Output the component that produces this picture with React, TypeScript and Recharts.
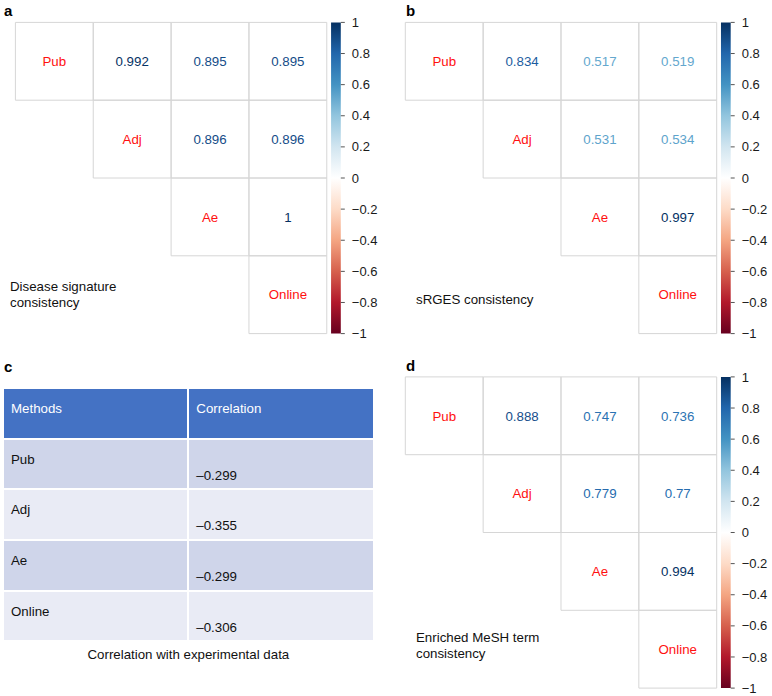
import React from 'react'
import { ScatterChart, Scatter, XAxis, YAxis, ReferenceArea } from 'recharts'

const FONT = '"Liberation Sans", Arial, Helvetica, sans-serif'

// methods compared in every panel
const METHODS = ['Pub', 'Adj', 'Ae', 'Online']

// upper triangle, row by row: Pub-Adj, Pub-Ae, Pub-Online, Adj-Ae, Adj-Online, Ae-Online
const SIG_CONSISTENCY = [0.992, 0.895, 0.895, 0.896, 0.896, 1]
const SRGES_CONSISTENCY = [0.834, 0.517, 0.519, 0.531, 0.534, 0.997]
const MESH_CONSISTENCY = [0.888, 0.747, 0.736, 0.779, 0.77, 0.994]

// panel c
const EXP_CORRELATION = [-0.299, -0.355, -0.299, -0.306]

const CB_TICKS = [-1, -0.8, -0.6, -0.4, -0.2, 0, 0.2, 0.4, 0.6, 0.8, 1]

// corrplot RdBu ramp, -1 .. 1
const RDBU = ['#67001F', '#B2182B', '#D6604D', '#F4A582', '#FDDBC7', '#FFFFFF', '#D1E5F0', '#92C5DE', '#4393C3', '#2166AC', '#053061']

const XMAX = 4.18
const CB_X1 = 4.055
const PLOT_W = 325.4
const PLOT_H = 311.2

function hex(c: string) {
  return [1, 3, 5].map(i => parseInt(c.slice(i, i + 2), 16))
}

function corrColor(v: number) {
  const t = ((v + 1) / 2) * (RDBU.length - 1)
  const i = Math.min(Math.floor(t), RDBU.length - 2)
  const f = t - i
  const a = hex(RDBU[i])
  const b = hex(RDBU[i + 1])
  const m = a.map((x, k) => Math.round(x + (b[k] - x) * f))
  return `rgb(${m[0]},${m[1]},${m[2]})`
}

function buildCells(values: number[]) {
  const cells: { x: number; y: number; row: number; col: number; label: string; color: string }[] = []
  let k = 0
  for (let i = 0; i < METHODS.length; i++) {
    cells.push({ x: i + 0.5, y: i + 0.5, row: i, col: i, label: METHODS[i], color: '#FF1010' })
    for (let j = i + 1; j < METHODS.length; j++) {
      const v = values[k++]
      cells.push({ x: j + 0.5, y: i + 0.5, row: i, col: j, label: String(v), color: corrColor(v) })
    }
  }
  return cells
}

// anchors the colour-bar axis so it gets a scale
const cbAnchor = CB_TICKS.map(v => ({ x: XMAX, y: v }))

const fmtTick = (v: number) => (v < 0 ? `\u2212${Math.abs(v)}` : `${v}`)

const CellText = (props: any) => {
  const { cx, cy, payload } = props
  return (
    <text x={cx} y={cy} dy="0.36em" textAnchor="middle" fill={payload.color} fontSize={13.3} fontFamily={FONT}>
      {payload.label}
    </text>
  )
}

const Nothing = () => <g />

interface CorrPanelProps {
  id: string
  letter: string
  values: number[]
  left: number
  top: number
  plotLeft: number
  plotTop: number
  caption: string[]
  captionLeft: number
  captionTop: number
  letterLeft: number
  letterTop: number
}

function CorrPanel({ id, letter, values, left, top, plotLeft, plotTop, caption, captionLeft, captionTop, letterLeft, letterTop }: CorrPanelProps) {
  const cells = buildCells(values)
  const margin = {
    top: plotTop,
    left: plotLeft,
    right: 386 - plotLeft - PLOT_W - 40,
    bottom: 348 - plotTop - PLOT_H,
  }
  return (
    <div style={{ position: 'absolute', left, top, width: 386, height: 348 }}>
      <ScatterChart width={386} height={348} margin={margin}>
        <defs>
          <linearGradient id={`rdbu-${id}`} x1="0" y1="0" x2="0" y2="1">
            {RDBU.slice().reverse().map((c, i) => (
              <stop key={i} offset={`${(i / (RDBU.length - 1)) * 100}%`} stopColor={c} />
            ))}
          </linearGradient>
        </defs>
        <XAxis type="number" dataKey="x" domain={[0, XMAX]} hide allowDataOverflow />
        <YAxis yAxisId="m" type="number" dataKey="y" domain={[0, 4]} reversed hide allowDataOverflow />
        <YAxis
          yAxisId="cb"
          orientation="right"
          type="number"
          dataKey="y"
          domain={[-1, 1]}
          ticks={CB_TICKS}
          interval={0}
          width={40}
          axisLine={false}
          tickLine={{ stroke: '#555' }}
          tickSize={4}
          tickMargin={7}
          tick={{ fill: '#1a1a1a', fontSize: 13, fontFamily: FONT }}
          tickFormatter={fmtTick}
          allowDataOverflow
        />
        {cells.map(c => (
          <ReferenceArea
            key={`${c.row}-${c.col}`}
            yAxisId="m"
            x1={c.col}
            x2={c.col + 1}
            y1={c.row}
            y2={c.row + 1}
            fill="none"
            stroke="#d6d6d6"
            strokeWidth={1}
          />
        ))}
        <ReferenceArea
          yAxisId="cb"
          x1={CB_X1}
          x2={XMAX}
          y1={-1}
          y2={1}
          fill={`url(#rdbu-${id})`}
          fillOpacity={1}
          stroke="none"
        />
        <Scatter yAxisId="cb" data={cbAnchor} shape={Nothing} isAnimationActive={false} />
        <Scatter yAxisId="m" data={cells} shape={CellText} isAnimationActive={false} />
      </ScatterChart>
      <div style={{ position: 'absolute', left: letterLeft, top: letterTop, fontSize: 15, lineHeight: '15px', fontWeight: 700, color: '#000' }}>
        {letter}
      </div>
      <div style={{ position: 'absolute', left: captionLeft, top: captionTop, fontSize: 13.3, lineHeight: '16px', color: '#111', whiteSpace: 'nowrap' }}>
        {caption.map((l, i) => <div key={i}>{l}</div>)}
      </div>
    </div>
  )
}

function ExpTable() {
  const cellBase: React.CSSProperties = {
    paddingTop: 12,
    paddingLeft: 7,
    fontSize: 13.3,
    lineHeight: '16px',
    boxSizing: 'border-box',
  }
  return (
    <>
      <div style={{ position: 'absolute', left: 4, top: 359, fontSize: 15, lineHeight: '15px', fontWeight: 700 }}>c</div>
      <div
        style={{
          position: 'absolute',
          left: 4,
          top: 389,
          width: 368.7,
          display: 'grid',
          gridTemplateColumns: '183.3px 183.4px',
          gridAutoRows: '48.5px',
          columnGap: 2,
          rowGap: 2.2,
        }}
      >
        <div style={{ ...cellBase, background: '#4472C4', color: '#fff' }}>Methods</div>
        <div style={{ ...cellBase, background: '#4472C4', color: '#fff' }}>Correlation</div>
        {METHODS.map((m, i) => {
          const bg = i % 2 === 0 ? '#CFD5EA' : '#E9EBF5'
          const v = EXP_CORRELATION[i]
          return (
            <React.Fragment key={m}>
              <div style={{ ...cellBase, background: bg, color: '#111' }}>{m}</div>
              <div style={{ ...cellBase, background: bg, color: '#111' }}>
                <div>&nbsp;</div>
                <div>{v < 0 ? `\u2013${Math.abs(v).toFixed(3)}` : v.toFixed(3)}</div>
              </div>
            </React.Fragment>
          )
        })}
      </div>
      <div style={{ position: 'absolute', left: 4, top: 646.7, width: 368.7, textAlign: 'center', fontSize: 13.3, lineHeight: '16px', color: '#111' }}>
        Correlation with experimental data
      </div>
    </>
  )
}

export default function App() {
  return (
    <div style={{ position: 'absolute', left: 0, top: 0, width: 772, height: 696, background: '#fff', fontFamily: FONT, overflow: 'hidden' }}>
      <CorrPanel
        id="a"
        letter="a"
        values={SIG_CONSISTENCY}
        left={0}
        top={0}
        plotLeft={15.4}
        plotTop={22.4}
        caption={['Disease signature', 'consistency']}
        captionLeft={10}
        captionTop={279}
        letterLeft={4}
        letterTop={3}
      />
      <CorrPanel
        id="b"
        letter="b"
        values={SRGES_CONSISTENCY}
        left={386}
        top={0}
        plotLeft={19.3}
        plotTop={22.4}
        caption={['sRGES consistency']}
        captionLeft={30}
        captionTop={292}
        letterLeft={20}
        letterTop={3}
      />
      <ExpTable />
      <CorrPanel
        id="d"
        letter="d"
        values={MESH_CONSISTENCY}
        left={386}
        top={348}
        plotLeft={19.3}
        plotTop={28.9}
        caption={['Enriched MeSH term', 'consistency']}
        captionLeft={30}
        captionTop={282}
        letterLeft={20}
        letterTop={10}
      />
    </div>
  )
}
